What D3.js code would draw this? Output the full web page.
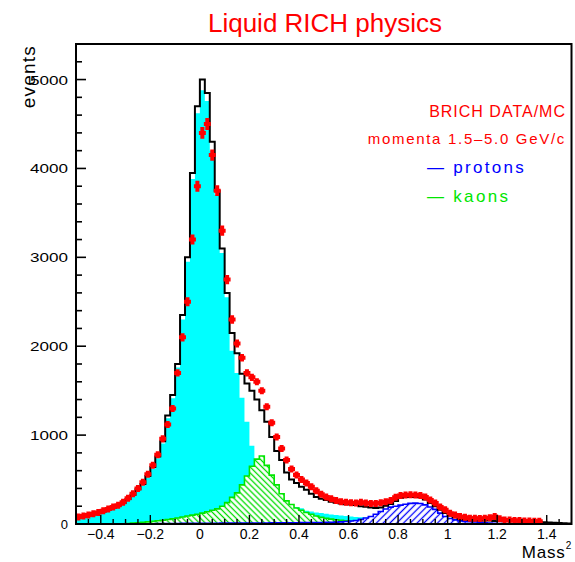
<!DOCTYPE html>
<meta charset="utf-8">
<script src="https://d3js.org/d3.v7.min.js"></script>
<style>
  body { margin: 0; background: #fff; }
  text { font-family: "Liberation Sans", Arial, sans-serif; }
</style>
<div id="chart"></div>
<script>
// 100 bins of 0.02 in Mass^2, from -0.5 to 1.5
const binStart = -0.5;
const binWidth = 0.02;

// total MC (black outline)
const totalMC = [
  78, 88, 98, 110, 125, 140, 160, 180, 205, 236,
  280, 330, 390, 450, 540, 640, 760, 930, 1220, 1450,
  1800, 2350, 3000, 3950, 4700, 5000, 4850, 4300, 3750, 3100,
  2600, 2150, 1920, 1690, 1580, 1500, 1400, 1280, 1150, 980,
  820, 720, 580, 500, 460, 420, 385, 340, 305, 285,
  270, 250, 238, 230, 222, 218, 214, 200, 195, 185,
  180, 185, 205, 225, 260, 295, 305, 305, 305, 300,
  275, 235, 200, 160, 125, 95, 75, 60, 50, 45,
  42, 40, 40, 38, 35, 35, 32, 30, 30, 28,
  28, 25, 22, 22, 20, 18, 15, 12, 8, 5
];

// pions MC (cyan fill)
const pionMC = [
  74, 84, 94, 106, 120, 135, 155, 175, 198, 228,
  270, 320, 378, 436, 525, 622, 740, 905, 1190, 1415,
  1760, 2300, 2950, 3880, 4620, 4880, 4760, 4200, 3700, 3050,
  2550, 1950, 1700, 1420, 1150, 880, 690, 480, 360, 310,
  275, 245, 225, 210, 190, 178, 150, 140, 130, 124,
  115, 108, 100, 95, 90, 85, 80, 76, 72, 68,
  64, 60, 56, 52, 48, 45, 42, 39, 36, 33,
  30, 27, 24, 21, 18, 16, 14, 12, 10, 8,
  7, 5, 4, 3, 2, 0, 0, 0, 0, 0,
  0, 0, 0, 0, 0, 0, 0, 0, 0, 0
];

// kaons MC (green hatch)
const kaonMC = [
  0, 0, 0, 0, 0, 0, 0, 0, 0, 0,
  6, 10, 14, 18, 24, 30, 36, 42, 50, 58,
  68, 78, 90, 100, 110, 122, 138, 155, 170, 200,
  240, 300, 350, 440, 540, 650, 730, 765, 660, 550,
  440, 340, 260, 220, 180, 155, 130, 110, 90, 75,
  64, 55, 48, 42, 36, 31, 27, 23, 19, 16,
  13, 10, 8, 6, 5, 4, 3, 2, 1, 0,
  0, 0, 0, 0, 0, 0, 0, 0, 0, 0,
  0, 0, 0, 0, 0, 0, 0, 0, 0, 0,
  0, 0, 0, 0, 0, 0, 0, 0, 0, 0
];

// protons MC (blue hatch)
const protonMC = [
  0, 0, 0, 0, 0, 0, 0, 0, 0, 0,
  0, 0, 0, 0, 0, 3, 4, 5, 5, 6,
  6, 7, 7, 8, 8, 8, 9, 9, 9, 10,
  10, 10, 10, 11, 11, 11, 12, 12, 12, 13,
  13, 13, 14, 14, 14, 15, 15, 16, 16, 17,
  18, 19, 21, 24, 28, 33, 40, 52, 68, 85,
  110, 140, 168, 190, 200, 212, 222, 232, 235, 230,
  215, 192, 165, 122, 85, 62, 46, 35, 30, 26,
  22, 18, 14, 10, 7, 5, 3, 2, 0, 0,
  0, 0, 0, 0, 0, 0, 0, 0, 0, 0
];

// BRICH data (red points)
const dataCounts = [
  80, 90, 100, 115, 130, 150, 168, 190, 212, 245,
  290, 340, 400, 470, 560, 660, 780, 960, 1120, 1300,
  1700, 2100, 2500, 3200, 3800, 4400, 4500, 4150, 3750, 3300,
  2750, 2300, 2030, 1870, 1700, 1650, 1600, 1500, 1320, 1140,
  980, 850, 720, 620, 550, 500, 460, 420, 375, 335,
  305, 285, 265, 250, 245, 240, 235, 245, 235, 230,
  232, 240, 250, 265, 300, 320, 325, 330, 325, 320,
  305, 270, 235, 190, 160, 120, 100, 85, 75, 65,
  64, 62, 64, 70, 85, 60, 45, 45, 40, 40,
  35, 35, 32, 30, 0, 0, 0, 0, 0, 0
];

const yLabelValues = [0, 1000, 2000, 3000, 4000, 5000];
const xLabelValues = [-0.4, -0.2, 0, 0.2, 0.4, 0.6, 0.8, 1, 1.2, 1.4];
const xLabelTexts = ["−0.4", "−0.2", "0", "0.2", "0.4", "0.6", "0.8", "1", "1.2", "1.4"];

const legendTexts = ["BRICH DATA/MC", "momenta 1.5–5.0 GeV/c", "— protons", "— kaons"];
const legendColors = ["#ff0000", "#ff0000", "#0000ff", "#00e600"];

const W = 575, H = 562;
const svg = d3.select("#chart").append("svg")
    .attr("width", W)
    .attr("height", H);

const x = d3.scaleLinear().domain([-0.5, 1.5]).range([76, 571.5]);
const y = d3.scaleLinear().domain([0, 5400]).range([524, 44]);

const defs = svg.append("defs");
defs.append("clipPath").attr("id", "plotclip")
  .append("rect")
    .attr("x", x(-0.5)).attr("y", y(5400))
    .attr("width", x(1.5) - x(-0.5)).attr("height", y(0) - y(5400));

// hatch patterns (white under the lines)
function hatch(id, color, angle, gap) {
  const p = defs.append("pattern")
      .attr("id", id)
      .attr("patternUnits", "userSpaceOnUse")
      .attr("width", gap).attr("height", gap)
      .attr("patternTransform", `rotate(${angle})`);
  p.append("rect").attr("width", gap).attr("height", gap).attr("fill", "#fff");
  p.append("line")
      .attr("x1", gap / 2).attr("y1", 0).attr("x2", gap / 2).attr("y2", gap)
      .attr("stroke", color).attr("stroke-width", 1.3);
}
hatch("kaonHatch", "#00dd00", -45, 4.2);
hatch("protonHatch", "#0000ff", 45, 4.8);

// bin-edge points for step drawing
function stepPoints(vals) {
  const pts = vals.map((v, i) => [binStart + i * binWidth, v]);
  pts.push([binStart + vals.length * binWidth, vals[vals.length - 1]]);
  return pts;
}
// only the non-empty part, closed down to zero at both ends
function trimmedPoints(vals) {
  let a = vals.findIndex(v => v > 0);
  let b = vals.length - 1;
  while (b > 0 && vals[b] <= 0) b--;
  const pts = [[binStart + a * binWidth, 0]];
  for (let i = a; i <= b; i++) pts.push([binStart + i * binWidth, vals[i]]);
  pts.push([binStart + (b + 1) * binWidth, vals[b]]);
  pts.push([binStart + (b + 1) * binWidth, 0]);
  return pts;
}

const area = d3.area()
    .x(d => x(d[0]))
    .y0(y(0))
    .y1(d => y(d[1]))
    .curve(d3.curveStepAfter);
const line = d3.line()
    .x(d => x(d[0]))
    .y(d => y(d[1]))
    .curve(d3.curveStepAfter);

const plot = svg.append("g").attr("clip-path", "url(#plotclip)");

// pions
plot.append("path")
    .attr("d", area(stepPoints(pionMC)))
    .attr("fill", "#00ffff");

// kaons
const kPts = trimmedPoints(kaonMC);
plot.append("path").attr("d", area(kPts)).attr("fill", "url(#kaonHatch)");
plot.append("path").attr("d", line(kPts))
    .attr("fill", "none").attr("stroke", "#00e600").attr("stroke-width", 1.6);

// protons
const pPts = trimmedPoints(protonMC);
plot.append("path").attr("d", area(pPts)).attr("fill", "url(#protonHatch)");
plot.append("path").attr("d", line(pPts))
    .attr("fill", "none").attr("stroke", "#0000ff").attr("stroke-width", 1.6);

// total MC
plot.append("path")
    .attr("d", line(stepPoints(totalMC)))
    .attr("fill", "none")
    .attr("stroke", "#000")
    .attr("stroke-width", 2);

// data points with error bars
const pts = dataCounts
  .map((v, i) => ({ c: binStart + (i + 0.5) * binWidth, v: v }))
  .filter(d => d.v > 0);
plot.selectAll("path.data")
  .data(pts)
  .join("path")
    .attr("class", "data")
    .attr("d", d => {
      const cx = x(d.c), cy = y(d.v);
      const hw = (x(binWidth) - x(0)) / 2 + 1;
      const half = Math.max(3.5, y(d.v - Math.sqrt(d.v)) - cy);
      return `M${cx - hw},${cy}H${cx + hw}M${cx},${cy - half}V${cy + half}`;
    })
    .attr("fill", "none")
    .attr("stroke", "#ff0000")
    .attr("stroke-width", 4);

// frame
svg.append("rect")
    .attr("x", x(-0.5)).attr("y", y(5400))
    .attr("width", x(1.5) - x(-0.5)).attr("height", y(0) - y(5400))
    .attr("fill", "none").attr("stroke", "#000").attr("stroke-width", 2);

// y ticks (inside)
const yTicks = d3.range(0, 5401, 200);
svg.append("g").selectAll("line")
  .data(yTicks)
  .join("line")
    .attr("x1", x(-0.5))
    .attr("x2", d => x(-0.5) + (d % 1000 === 0 ? 10 : 6))
    .attr("y1", d => y(d)).attr("y2", d => y(d))
    .attr("stroke", "#000").attr("stroke-width", 1.6);

svg.append("g").selectAll("text")
  .data(yLabelValues)
  .join("text")
    .attr("x", 68)
    .attr("y", d => y(d) + 5)
    .attr("text-anchor", "end")
    .attr("font-size", 13)
    .attr("textLength", d => String(d).length > 1 ? 38 : null)
    .attr("lengthAdjust", "spacingAndGlyphs")
    .text(d => d);

// x ticks (inside)
const xTicks = d3.range(-9, 30).map(k => k * 0.05);
svg.append("g").selectAll("line")
  .data(xTicks)
  .join("line")
    .attr("x1", d => x(d)).attr("x2", d => x(d))
    .attr("y1", y(0))
    .attr("y2", d => y(0) - (Math.abs(d / 0.2 - Math.round(d / 0.2)) < 1e-6 ? 9 : 5))
    .attr("stroke", "#000").attr("stroke-width", 1.4);

svg.append("g").selectAll("text")
  .data(xLabelValues)
  .join("text")
    .attr("x", d => x(d))
    .attr("y", 539)
    .attr("text-anchor", "middle")
    .attr("font-size", 14)
    .text((d, i) => xLabelTexts[i]);

// axis titles
svg.append("text")
    .attr("x", 572).attr("y", 558)
    .attr("text-anchor", "end")
    .attr("font-size", 17)
    .attr("letter-spacing", 0.8)
    .text("Mass")
  .append("tspan")
    .attr("dy", -9)
    .attr("font-size", 10)
    .text("2");

svg.append("text")
    .attr("transform", "translate(35,45) rotate(-90)")
    .attr("text-anchor", "end")
    .attr("font-size", 19)
    .attr("letter-spacing", 1.2)
    .text("events");

// title
svg.append("text")
    .attr("x", 325).attr("y", 32)
    .attr("text-anchor", "middle")
    .attr("font-size", 26)
    .attr("fill", "#ff0000")
    .text("Liquid RICH physics");

// legend
svg.append("text")
    .attr("x", 566).attr("y", 116.5)
    .attr("text-anchor", "end").attr("font-size", 16).attr("letter-spacing", 1)
    .attr("fill", legendColors[0]).text(legendTexts[0]);
svg.append("text")
    .attr("x", 566).attr("y", 143.5)
    .attr("text-anchor", "end").attr("font-size", 15).attr("letter-spacing", 1.7)
    .attr("fill", legendColors[1]).text(legendTexts[1]);
svg.append("text")
    .attr("x", 427).attr("y", 172.5)
    .attr("font-size", 17).attr("letter-spacing", 2.3)
    .attr("fill", legendColors[2]).text(legendTexts[2]);
svg.append("text")
    .attr("x", 427).attr("y", 201.5)
    .attr("font-size", 17).attr("letter-spacing", 2.3)
    .attr("fill", legendColors[3]).text(legendTexts[3]);
</script>
